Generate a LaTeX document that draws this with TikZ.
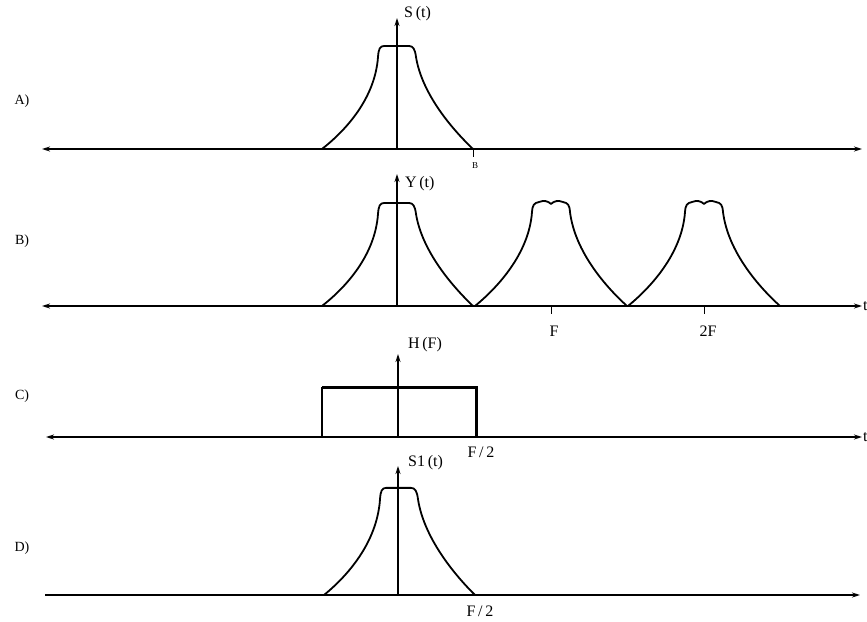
\documentclass[tikz,border=0pt]{standalone}
\usepackage{fontspec}
\setmainfont{Liberation Serif}
\usetikzlibrary{arrows.meta}
\tikzset{
  curve/.style={line width=1.8pt, line join=round, line cap=round},
  axis/.style={line width=1.7pt},
  vaxis/.style={line width=1.2pt},
  tipR/.style={-{Stealth[length=8pt,width=5pt]}},
  tipLR/.style={{Stealth[length=8pt,width=5pt]}-{Stealth[length=8pt,width=5pt]}},
  lbl/.style={font=\fontsize{16}{18}\selectfont, inner sep=0pt},
  plbl/.style={font=\fontsize{14}{16}\selectfont, inner sep=0pt},
  pulseflat/.pic={\draw[curve] (-75,0) .. controls (-52,-18) and (-22,-50) .. (-19,-92) .. controls (-18.5,-100) and (-17,-103) .. (-13,-103) -- (12,-103) .. controls (16,-103) and (18,-100) .. (19,-92) .. controls (25,-55) and (55,-20) .. (76,0);},
  pulsedip/.pic={\draw[curve] (-76,0) .. controls (-54,-18) and (-22,-52) .. (-19,-94) .. controls (-18.5,-101) and (-17,-103) .. (-12,-104) .. controls (-7,-106) and (-3,-105) .. (0,-102) .. controls (3,-105) and (7,-106) .. (12,-104) .. controls (17,-103) and (18.5,-101) .. (19,-94) .. controls (24,-54) and (55,-19) .. (76,0);}
}
\begin{document}
\begin{tikzpicture}[x=1pt,y=-1pt]
\useasboundingbox (0,0) rectangle (867,621);
% ---------- A ----------
\coordinate (aL) at (42,149); \coordinate (aR) at (862,149);
\coordinate (a0) at (397,149); \coordinate (aT) at (397,18);
\draw[axis,tipLR] (aL) -- (aR);
\draw[vaxis,tipR] (a0) -- (aT);
\pic at (a0) {pulseflat};
\node[lbl,anchor=west] (aS) at (404,14) {S\,(t)};
\node[plbl] (aA) at (22,101) {A)};
\coordinate (aB0) at (473,149); \coordinate (aB1) at (473,157);
\draw[line width=0.8pt] (aB0) -- (aB1);
\node[font=\fontsize{9}{10}\selectfont, inner sep=0pt] (aB) at (475,166) {B};
% ---------- B ----------
\coordinate (bL) at (42,306); \coordinate (bR) at (862,306);
\coordinate (b0) at (397,306); \coordinate (bT) at (397,174);
\coordinate (b1) at (551,306); \coordinate (b2) at (704,306);
\draw[axis,tipLR] (bL) -- (bR);
\draw[vaxis,tipR] (b0) -- (bT);
\pic at (b0) {pulseflat};
\pic at (b1) {pulsedip};
\pic at (b2) {pulsedip};
\coordinate (b1t) at (551,314); \coordinate (b2t) at (704,314);
\draw[line width=0.9pt] (b1) -- (b1t);
\draw[line width=0.9pt] (b2) -- (b2t);
\node[lbl] (bF) at (554,331) {F};
\node[lbl] (b2F) at (708,331) {2F};
\node[lbl,anchor=west] (bY) at (405,184) {Y\,(t)};
\node[plbl] (bB) at (22,241) {B)};
\node[lbl,anchor=west] (bt) at (863,306) {t};
% ---------- C ----------
\coordinate (cL) at (46,437); \coordinate (cR) at (862,437);
\coordinate (c0) at (398,437); \coordinate (cT) at (398,354);
\coordinate (r1) at (322,437); \coordinate (r2) at (322,387);
\coordinate (r3) at (476,387); \coordinate (r4) at (476,437);
\draw[axis,tipLR] (cL) -- (cR);
\draw[vaxis,tipR] (c0) -- (cT);
\draw[line width=1.3pt] (r1) -- (r2);
\draw[line width=3pt] (r2) -- (r3) -- (r4);
\node[lbl,anchor=west] (cH) at (408,345) {H\,(F)};
\node[lbl] (cF) at (481,452) {F\,/\,2};
\node[plbl] (cC) at (22,396) {C)};
\node[lbl,anchor=west] (ct) at (863,437) {t};
% ---------- D ----------
\coordinate (dL) at (45,595); \coordinate (dR) at (860,595);
\coordinate (d0) at (398,595); \coordinate (dT) at (398,466);
\draw[line width=2pt,tipR] (dL) -- (dR);
\draw[vaxis,tipR] (d0) -- (dT);
\pic[yscale=1.04] at (399,595) {pulseflat};
\node[lbl,anchor=west] (dS) at (408,463) {S1\,(t)};
\node[lbl] (dF) at (480,611) {F\,/\,2};
\node[plbl] (dD) at (22,548) {D)};
\end{tikzpicture}
\end{document}
